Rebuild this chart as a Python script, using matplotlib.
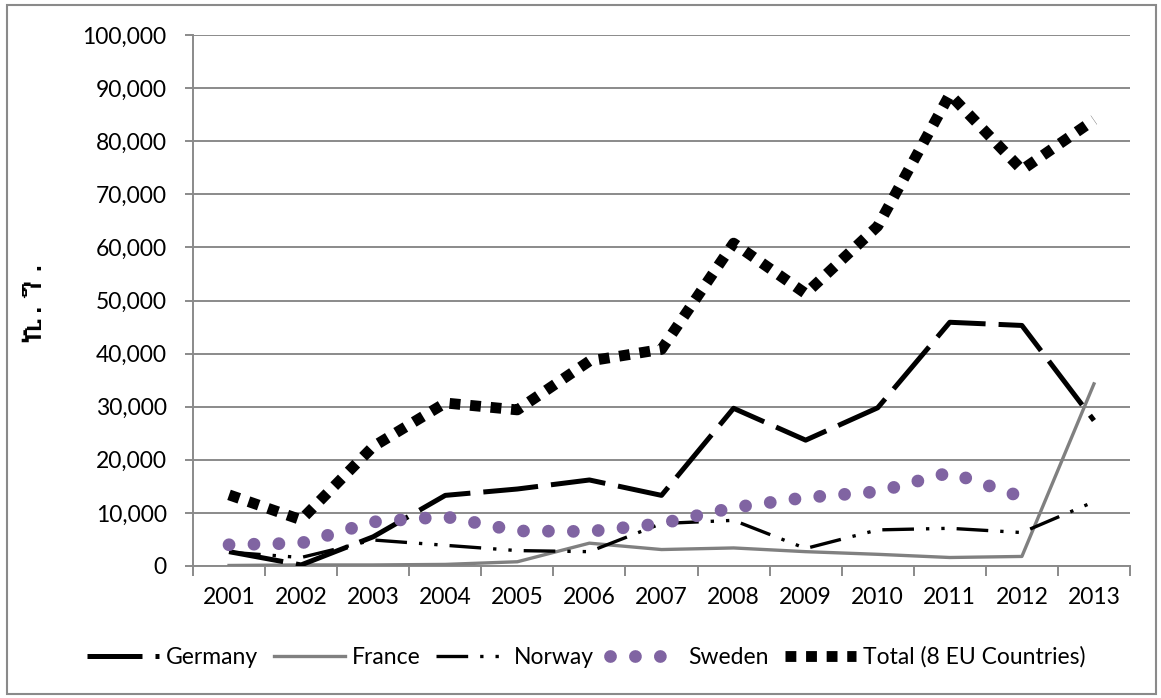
import matplotlib
matplotlib.use('Agg')
import matplotlib.pyplot as plt
from matplotlib import font_manager as fm
from matplotlib.ft2font import FT2Font
from matplotlib.patches import Rectangle
from matplotlib.ticker import FuncFormatter
import numpy as np

years = ['2001', '2002', '2003', '2004', '2005', '2006', '2007',
         '2008', '2009', '2010', '2011', '2012', '2013']
germany = [2700, 200, 5500, 13300, 14500, 16200, 13300, 29700, 23700, 29800, 45900, 45300, 27400]
france = [100, 200, 200, 300, 800, 4300, 3100, 3400, 2700, 2200, 1600, 1800, 34300]
norway = [2600, 1600, 4900, 3900, 2900, 2700, 8000, 8600, 3300, 6800, 7100, 6300, 12100]
sweden = [4000, 4300, 8300, 9300, 6600, 6500, 8000, 11000, 12900, 14000, 17600, 13000]
total = [13400, 8700, 22500, 30700, 29400, 38600, 40800, 60800, 51300, 64000, 88800, 74600, 84000]
ylabel_text = 'ኪ.ግ.'
legend_labels = ['Germany', 'France', 'Norway', 'Sweden', 'Total (8 EU Countries)']


def find_font_for(ch):
    for f in fm.fontManager.ttflist:
        try:
            ft = FT2Font(f.fname)
            if ft.get_char_index(ord(ch)):
                return f.name
        except Exception:
            pass
    return None


eth_font = find_font_for(ylabel_text[0])

plt.rcParams['font.family'] = ['Lato', 'DejaVu Sans']
GRID = '#8a8a8a'
FS = 16.5

fig = plt.figure(figsize=(11.61, 6.98), dpi=100)
ax = fig.add_axes([193 / 1161, 1 - 566 / 698, (1130 - 193) / 1161, (566 - 35) / 698])

x = np.arange(len(years))

ax.plot(x, germany, color='black', lw=3.6, linestyle=(0, (11, 2.6)),
        dash_capstyle='butt', label=legend_labels[0], zorder=4)
ax.plot(x, france, color='#808080', lw=2.4, linestyle='-', label=legend_labels[1], zorder=3,
        solid_joinstyle='round')
ax.plot(x, norway, color='black', lw=2.4, linestyle=(0, (9.5, 3.6, 1, 3.6, 1, 3.6)),
        dash_capstyle='butt', label=legend_labels[2], zorder=4)
ax.plot(x[:len(sweden)], sweden, color='#8064A2', lw=9.2, linestyle=(0, (0.001, 1.95)),
        dash_capstyle='round', label=legend_labels[3], zorder=5)
ax.plot(x, total, color='black', lw=7.8, linestyle=(0, (1, 0.9)),
        dash_capstyle='butt', label=legend_labels[4], zorder=6)

ax.set_xlim(-0.5, len(years) - 0.5)
ax.set_ylim(0, 100000)
ax.set_yticks(np.arange(0, 100001, 10000))
ax.yaxis.set_major_formatter(FuncFormatter(lambda v, p: f'{int(v):,}'))
ax.grid(axis='y', color=GRID, lw=1.4)
ax.set_axisbelow(True)

ax.set_xticks(np.arange(-0.5, len(years), 1))
ax.set_xticklabels([])
ax.set_xticks(x, minor=True)
ax.set_xticklabels(years, minor=True)
ax.tick_params(axis='x', which='major', length=7, width=1.4, color=GRID, direction='out')
ax.tick_params(axis='x', which='minor', length=0, pad=15, labelsize=FS)
ax.tick_params(axis='y', length=6, width=1.4, color=GRID, pad=13, labelsize=FS)

for s in ['top', 'right']:
    ax.spines[s].set_visible(False)
for s in ['left', 'bottom']:
    ax.spines[s].set_color(GRID)
    ax.spines[s].set_linewidth(1.4)

if eth_font:
    fam = [eth_font, 'DejaVu Sans']
else:
    fam = ['DejaVu Sans']
fig.text(32 / 1161, 1 - 300 / 698, ylabel_text, rotation=90, ha='center', va='center',
         fontsize=20, fontweight='bold', family=fam)

leg = fig.legend(loc='center', bbox_to_anchor=(0.505, 1 - 657 / 698), ncol=5, frameon=False,
                 fontsize=FS, handlelength=3.1, handletextpad=0.3, columnspacing=0.7)

fig.patches.append(Rectangle((7 / 1161, 4 / 698), 1149 / 1161, 689 / 698,
                             transform=fig.transFigure, fill=False, edgecolor=GRID, lw=1.5))

fig.savefig('out.png', dpi=100)
